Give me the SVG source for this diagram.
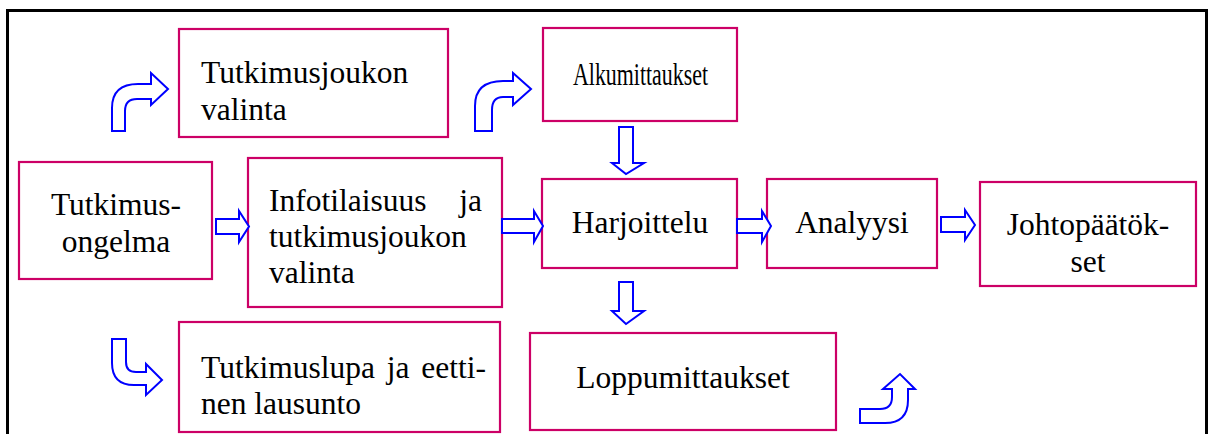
<svg xmlns="http://www.w3.org/2000/svg" width="1211" height="434" viewBox="0 0 1211 434">
<style>
.box{fill:#fff;stroke:#CC0066;stroke-width:2.2}
.t{font-family:"Liberation Serif","Times New Roman",serif;font-size:31.5px;fill:#000}
.c{text-anchor:middle}
.arr{fill:#fff;stroke:#0000FF;stroke-width:2;stroke-linejoin:miter}
</style>
<rect width="1211" height="434" fill="#fff"/>
<path d="M7.5,440 V10.5 H1206.5 V440" fill="none" stroke="#000" stroke-width="3"/>
<g id="n-tutkimusjoukon">
<rect class="box" x="179" y="29" width="269" height="108"/>
<text class="t" x="201" y="83">Tutkimusjoukon</text>
<text class="t" x="201" y="120">valinta</text>
</g>
<g id="n-alkumittaukset">
<rect class="box" x="543" y="28" width="194" height="93"/>
<text class="t" x="573" y="85" textLength="135" lengthAdjust="spacingAndGlyphs">Alkumittaukset</text>
</g>
<g id="n-ongelma">
<rect class="box" x="19" y="162" width="193" height="117"/>
<text class="t c" x="116" y="215">Tutkimus-</text>
<text class="t c" x="116" y="252">ongelma</text>
</g>
<g id="n-info">
<rect class="box" x="248" y="158" width="254" height="149"/>
<text class="t" x="269" y="211">Infotilaisuus</text>
<text class="t" x="482" y="211" text-anchor="end">ja</text>
<text class="t" x="269" y="247">tutkimusjoukon</text>
<text class="t" x="269" y="283">valinta</text>
</g>
<g id="n-harjoittelu">
<rect class="box" x="542" y="179" width="195" height="89"/>
<text class="t c" x="640" y="233">Harjoittelu</text>
</g>
<g id="n-analyysi">
<rect class="box" x="767" y="179" width="170" height="89"/>
<text class="t c" x="852" y="233">Analyysi</text>
</g>
<g id="n-johtopaatokset">
<rect class="box" x="980" y="182" width="216" height="104"/>
<text class="t c" x="1088" y="235">Johtopäätök-</text>
<text class="t c" x="1088" y="272">set</text>
</g>
<g id="n-tutkimuslupa">
<rect class="box" x="179" y="322" width="321" height="110"/>
<text class="t" x="201" y="378" word-spacing="4">Tutkimuslupa ja eetti-</text>
<text class="t" x="201" y="414">nen lausunto</text>
</g>
<g id="n-loppumittaukset">
<rect class="box" x="530" y="333" width="306" height="97"/>
<text class="t c" x="683" y="388">Loppumittaukset</text>
</g>
<g id="connectors">
<path class="arr" d="M216,219 H239 V211 L249,226.5 L239,242 V234 H216 Z"/>
<path class="arr" d="M502,219 H534 V211 L543,226 L534,242 V233 H502 Z"/>
<path class="arr" d="M737,219 H762 V211 L771,226 L762,242 V233 H737 Z"/>
<path class="arr" d="M941,217 H965 V210 L975,225 L965,240 V232 H941 Z"/>
<path class="arr" d="M619,127 H633 V163 H644 L626,174 L612,163 H619 Z"/>
<path class="arr" d="M619,282 H633 V311 H644 L626,324 L612,311 H619 Z"/>
<path class="arr" d="M112,131 L112,108 Q112,84 138,84 L151,84 L151,73 L168,89 L151,105 L151,99 L137,99 Q125,99 125,111 L125,131 Z"/>
<path class="arr" d="M475,131 L475,106 Q475,81 503,81 L513,81 L513,73 L531,89 L513,105 L513,97 L503,97 Q492,97 492,110 L492,131 Z"/>
<path class="arr" d="M112,339 L126,339 L126,362 Q126,372 136,372 L146,372 L146,364 L162,380 L146,395 L146,385 L134,385 Q112,385 112,363 Z"/>
<path class="arr" d="M860,409 L880,409 Q892,409 892,397 L892,389 L883,389 L900,374 L915,389 L908,389 L908,400 Q908,423 885,423 L860,423 Z"/>
</g>
</svg>
